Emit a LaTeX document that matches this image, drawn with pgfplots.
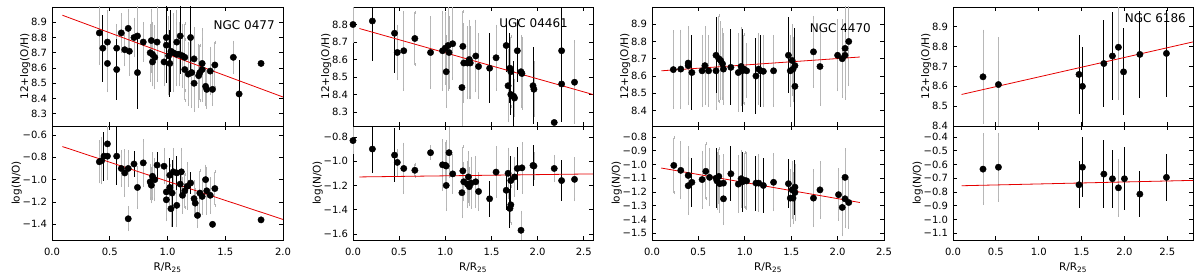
\documentclass[border=0pt]{standalone}
\usepackage{pgfplots}
\usepackage{pgfplotstable}
\pgfplotsset{compat=1.18}
\usepackage{fontspec}
\setmainfont{DejaVu Sans}

% ---------- data: x y (black error) (gray error) ----------
\pgfplotstableread{
x y eb eg
0.41 8.83 0 0.2
0.44 8.73 0.22 0
0.48 8.77 0 0.2
0.48 8.63 0 0.18
0.56 8.73 0 0.15
0.56 8.59 0.2 0
0.60 8.83 0 0.12
0.63 8.72 0 0.1
0.66 8.86 0 0.12
0.67 8.71 0 0.15
0.71 8.80 0 0.12
0.74 8.81 0 0.2
0.74 8.57 0.24 0
0.79 8.77 0 0.12
0.86 8.78 0 0.2
0.85 8.70 0 0.18
0.87 8.69 0 0.2
0.87 8.64 0 0.15
0.89 8.67 0 0.2
0.91 8.77 0 0.25
0.97 8.64 0 0.15
0.99 8.80 0.3 0
0.99 8.75 0 0.2
1.01 8.68 0 0.25
1.02 8.63 0.22 0
1.03 8.71 0.27 0
1.08 8.77 0 0.2
1.05 8.70 0 0.25
1.08 8.69 0 0.2
1.11 8.81 0.25 0
1.10 8.69 0 0.2
1.13 8.68 0 0.2
1.15 8.67 0 0.22
1.20 8.80 0.22 0
1.15 8.59 0 0.2
1.18 8.56 0 0.2
1.21 8.57 0 0.22
1.23 8.66 0 0.2
1.23 8.50 0 0.18
1.27 8.55 0 0.2
1.28 8.57 0 0.18
1.30 8.63 0 0.22
1.30 8.59 0 0.2
1.33 8.48 0 0.12
1.34 8.46 0 0.12
1.39 8.46 0 0.1
1.37 8.58 0 0.15
1.41 8.62 0 0.15
1.57 8.67 0 0.1
1.62 8.43 0.22 0
1.81 8.63 0 0
}\pOneTop
\pgfplotstableread{
x y eb eg
0.41 -0.84 0 0.18
0.43 -0.83 0 0.2
0.45 -0.79 0.22 0
0.48 -0.79 0 0.2
0.48 -0.68 0 0.15
0.56 -0.79 0.26 0
0.60 -0.90 0 0.15
0.63 -0.94 0 0.2
0.66 -1.35 0 0.1
0.66 -0.90 0 0.15
0.71 -0.86 0.12 0
0.74 -1.07 0 0.18
0.79 -0.85 0 0.2
0.85 -1.02 0 0.15
0.86 -1.05 0 0.15
0.87 -0.97 0 0.2
0.89 -1.00 0 0.18
0.91 -0.87 0.12 0
0.97 -0.88 0 0.15
0.99 -1.11 0 0.2
0.99 -1.18 0 0.18
1.02 -0.96 0.15 0
1.02 -1.07 0 0.2
1.03 -1.26 0 0.15
1.04 -1.12 0.3 0
1.05 -0.93 0 0.2
1.08 -0.94 0.15 0
1.08 -1.23 0 0.18
1.12 -0.93 0 0.2
1.11 -1.04 0.12 0
1.13 -1.14 0 0.15
1.15 -1.10 0 0.15
1.17 -1.06 0 0.2
1.20 -1.03 0.1 0
1.23 -1.17 0 0.15
1.24 -1.21 0 0.12
1.26 -1.32 0 0.1
1.28 -1.12 0 0.2
1.30 -1.15 0 0.15
1.33 -1.00 0 0.12
1.34 -1.10 0 0.2
1.37 -1.14 0 0.15
1.39 -1.40 0 0
1.41 -1.08 0 0.15
1.81 -1.36 0 0
}\pOneBot
\pgfplotstableread{
x y eb eg
0.00 8.80 0 0.1
0.21 8.82 0.23 0
0.45 8.75 0.23 0
0.48 8.64 0 0.15
0.55 8.65 0 0.22
0.67 8.72 0 0.15
0.84 8.64 0 0.2
0.97 8.65 0 0.22
1.00 8.665 0 0.2
1.01 8.53 0 0.2
1.03 8.68 0 0.25
1.04 8.64 0 0.2
1.08 8.69 0 0.2
1.18 8.44 0 0.25
1.19 8.675 0 0.2
1.20 8.58 0 0.22
1.24 8.58 0 0.2
1.26 8.60 0 0.22
1.27 8.58 0 0.2
1.33 8.62 0 0.2
1.36 8.56 0 0.18
1.48 8.55 0.2 0
1.55 8.61 0 0.18
1.66 8.68 0.15 0
1.68 8.45 0 0.2
1.70 8.55 0.2 0
1.71 8.53 0 0.2
1.71 8.40 0.12 0
1.74 8.39 0.2 0
1.75 8.38 0 0.1
1.78 8.65 0.18 0
1.82 8.53 0 0.2
1.83 8.52 0 0.2
1.95 8.45 0.22 0
1.96 8.43 0 0.15
2.18 8.24 0 0
2.26 8.65 0.25 0
2.26 8.46 0.22 0
2.40 8.47 0 0.23
}\pTwoTop
\pgfplotstableread{
x y eb eg
0.00 -0.83 0 0.1
0.21 -0.90 0.2 0
0.45 -0.95 0.22 0
0.48 -1.01 0 0.1
0.55 -1.06 0 0.2
0.67 -1.075 0 0.05
0.84 -0.93 0 0.05
0.97 -1.03 0 0.2
1.00 -1.034 0 0.18
1.01 -1.04 0 0.2
1.01 -1.20 0 0.2
1.04 -0.93 0 0.2
1.08 -1.105 0 0.15
1.18 -1.26 0 0.2
1.19 -1.08 0 0.2
1.20 -1.17 0 0.15
1.24 -1.19 0 0.18
1.25 -1.13 0 0.2
1.26 -1.21 0 0.15
1.28 -1.18 0 0.2
1.33 -1.17 0 0.2
1.36 -1.25 0 0.15
1.48 -1.31 0.15 0
1.55 -1.09 0 0.2
1.66 -1.24 0.16 0
1.68 -1.10 0 0.2
1.70 -1.39 0.16 0
1.71 -1.36 0 0.15
1.71 -1.16 0.2 0
1.75 -1.13 0 0.15
1.78 -1.06 0.18 0
1.82 -1.57 0 0.15
1.83 -1.055 0 0.2
1.95 -1.035 0.17 0
1.96 -1.04 0 0.1
2.18 -1.06 0 0.1
2.26 -1.16 0.17 0
2.40 -1.15 0 0.17
}\pTwoBot
\pgfplotstableread{
x y eb eg
0.23 8.637 0 0.22
0.31 8.64 0 0.22
0.39 8.675 0 0.2
0.39 8.66 0 0.22
0.43 8.62 0.22 0
0.54 8.63 0 0.2
0.57 8.66 0 0.22
0.61 8.63 0 0.2
0.69 8.63 0 0.22
0.69 8.72 0.22 0
0.72 8.70 0 0.25
0.74 8.69 0 0.22
0.76 8.67 0 0.2
0.77 8.64 0 0.2
0.85 8.65 0.22 0
0.93 8.62 0 0.22
0.96 8.655 0 0.22
0.97 8.63 0.24 0
0.99 8.64 0 0.2
1.02 8.63 0 0.15
1.12 8.60 0.22 0
1.15 8.64 0 0.2
1.17 8.63 0.21 0
1.20 8.627 0 0.2
1.31 8.63 0 0.2
1.47 8.72 0.22 0
1.49 8.63 0 0.2
1.51 8.69 0 0.2
1.52 8.64 0 0.18
1.54 8.66 0.22 0
1.54 8.54 0.25 0
1.74 8.74 0 0.2
1.81 8.655 0 0.22
2.00 8.72 0 0.2
2.05 8.70 0 0.22
2.08 8.72 0 0.25
2.08 8.76 0 0.25
2.12 8.80 0 0.25
}\pThreeTop
\pgfplotstableread{
x y eb eg
0.235 -1.007 0 0.2
0.31 -1.043 0 0.2
0.39 -1.08 0 0.2
0.39 -1.155 0 0.2
0.43 -1.13 0.18 0
0.54 -1.11 0 0.2
0.58 -1.05 0 0.2
0.62 -1.094 0 0.2
0.69 -1.10 0.22 0
0.70 -1.12 0 0.2
0.72 -1.087 0 0.2
0.73 -1.14 0 0.2
0.77 -1.136 0 0.2
0.77 -1.25 0 0.18
0.85 -1.068 0.2 0
0.93 -1.143 0 0.2
0.96 -1.104 0 0.2
0.97 -1.128 0.22 0
1.00 -1.116 0 0.2
1.02 -1.12 0 0.2
1.12 -1.136 0.2 0
1.15 -1.136 0 0.2
1.20 -1.153 0.2 0
1.31 -1.13 0 0.2
1.47 -1.14 0.18 0
1.49 -1.245 0 0.2
1.51 -1.185 0 0.2
1.52 -1.245 0 0.18
1.54 -1.165 0.2 0
1.54 -1.204 0 0.2
1.74 -1.245 0 0.2
1.81 -1.185 0 0.2
2.01 -1.22 0 0.18
2.05 -1.313 0 0.2
2.08 -1.094 0 0.2
2.08 -1.25 0 0.2
2.12 -1.277 0 0.18
}\pThreeBot
\pgfplotstableread{
x y eb eg
0.35 8.648 0 0.23
0.53 8.609 0 0.23
1.47 8.66 0.2 0
1.51 8.60 0.2 0
1.76 8.715 0.22 0
1.86 8.753 0.22 0
1.93 8.797 0 0.26
1.99 8.673 0.22 0
2.18 8.761 0.22 0
2.49 8.766 0.22 0
}\pFourTop
\pgfplotstableread{
x y eb eg
0.35 -0.634 0 0.25
0.53 -0.62 0 0.24
1.47 -0.748 0.17 0
1.51 -0.62 0.22 0
1.76 -0.67 0.25 0
1.86 -0.704 0.21 0
1.93 -0.77 0 0.2
2.00 -0.704 0.23 0
2.18 -0.816 0.17 0
2.49 -0.694 0.17 0
}\pFourBot

\pgfplotsset{
  base/.style={
    scale only axis, anchor=south west,
    tick align=inside, xtick pos=both, ytick pos=both,
    major tick length=4pt,
    axis line style={line width=0.8pt},
    every tick/.style={black, line width=0.8pt},
    tick label style={font=\fontsize{10}{12}\selectfont},
    label style={font=\fontsize{10.5}{12}\selectfont},
    xticklabel style={yshift=-5pt},
    yticklabel style={xshift=-1.5pt},
    ylabel style={yshift=-6pt},
    /pgf/number format/.cd, fixed, fixed zerofill, precision=1, assume math mode=true,
  },
  toprow/.style={base, height=119pt, at={(#1,154pt)}, xticklabels={}, ylabel={12+log(O/H)}},
  botrow/.style={base, height=114pt, at={(#1,40pt)}, xlabel={R/R\textsubscript{25}}, ylabel={log(N/O)}},
  gerr/.style={only marks, mark=none, error bars/.cd, y dir=both, y explicit,
    error mark=-, error mark options={black!30, mark size=1.5pt, line width=0.6pt},
    error bar style={color=black!28, line width=0.8pt}},
  berr/.style={only marks, mark=none, error bars/.cd, y dir=both, y explicit,
    error mark=none,
    error bar style={color=black, line width=1.0pt}},
  pts/.style={only marks, mark=*, mark size=3.2pt, mark options={fill=black, draw=black}},
  fit/.style={no marks, color=red!90!black, line width=0.8pt},
}

\begin{document}
\begin{tikzpicture}
\useasboundingbox (0,0) rectangle (1200pt,280pt);

% ================= Panel 1 =================
\begin{axis}[toprow=52pt, width=231pt, xmin=0, xmax=2.0, ymin=8.22, ymax=9.0,
  xtick={0,0.5,1.0,1.5,2.0}, ytick={8.3,8.4,8.5,8.6,8.7,8.8,8.9}]
\addplot[gerr] table[x=x,y=y,y error=eg]{\pOneTop};
\addplot[berr] table[x=x,y=y,y error=eb]{\pOneTop};
\addplot[pts] table[x=x,y=y]{\pOneTop};
\addplot[fit] coordinates {(0.09,8.946) (2.0,8.41)};
\node[anchor=north east, inner sep=0pt, font=\fontsize{12}{14}\selectfont] at (rel axis cs:0.965,0.89) {NGC 0477};
\end{axis}
\begin{axis}[botrow=52pt, width=231pt, xmin=0, xmax=2.0, ymin=-1.54, ymax=-0.52,
  xtick={0,0.5,1.0,1.5,2.0}, ytick={-1.4,-1.2,-1.0,-0.8,-0.6},
  yticklabels={−1.4,−1.2,−1.0,−0.8,−0.6}]
\addplot[gerr] table[x=x,y=y,y error=eg]{\pOneBot};
\addplot[berr] table[x=x,y=y,y error=eb]{\pOneBot};
\addplot[pts] table[x=x,y=y]{\pOneBot};
\addplot[fit] coordinates {(0.09,-0.704) (2.0,-1.356)};
\end{axis}

% ================= Panel 2 =================
\begin{axis}[toprow=353pt, width=240pt, xmin=0, xmax=2.6, ymin=8.22, ymax=8.9,
  xtick={0,0.5,1.0,1.5,2.0,2.5}, ytick={8.3,8.4,8.5,8.6,8.7,8.8}]
\addplot[gerr] table[x=x,y=y,y error=eg]{\pTwoTop};
\addplot[berr] table[x=x,y=y,y error=eb]{\pTwoTop};
\addplot[pts] table[x=x,y=y]{\pTwoTop};
\addplot[fit] coordinates {(0.07,8.777) (2.6,8.40)};
\node[anchor=north east, inner sep=0pt, font=\fontsize{12}{14}\selectfont] at (rel axis cs:0.896,0.908) {UGC 04461};
\end{axis}
\begin{axis}[botrow=353pt, width=240pt, xmin=0, xmax=2.6, ymin=-1.65, ymax=-0.71,
  xtick={0,0.5,1.0,1.5,2.0,2.5}, ytick={-1.6,-1.4,-1.2,-1.0,-0.8},
  yticklabels={−1.6,−1.4,−1.2,−1.0,−0.8}]
\addplot[gerr] table[x=x,y=y,y error=eg]{\pTwoBot};
\addplot[berr] table[x=x,y=y,y error=eb]{\pTwoBot};
\addplot[pts] table[x=x,y=y]{\pTwoBot};
\addplot[fit] coordinates {(0.07,-1.13) (2.6,-1.105)};
\end{axis}

% ================= Panel 3 =================
\begin{axis}[toprow=652pt, width=232pt, xmin=0, xmax=2.5, ymin=8.31, ymax=9.0,
  xtick={0,0.5,1.0,1.5,2.0,2.5}, ytick={8.4,8.5,8.6,8.7,8.8,8.9}]
\addplot[gerr] table[x=x,y=y,y error=eg]{\pThreeTop};
\addplot[berr] table[x=x,y=y,y error=eb]{\pThreeTop};
\addplot[pts] table[x=x,y=y]{\pThreeTop};
\addplot[fit] coordinates {(0.10,8.63) (2.24,8.71)};
\node[anchor=north east, inner sep=0pt, font=\fontsize{12}{14}\selectfont] at (rel axis cs:0.944,0.866) {NGC 4470};
\end{axis}
\begin{axis}[botrow=652pt, width=232pt, xmin=0, xmax=2.5, ymin=-1.55, ymax=-0.72,
  xtick={0,0.5,1.0,1.5,2.0,2.5}, ytick={-1.5,-1.4,-1.3,-1.2,-1.1,-1.0,-0.9,-0.8},
  yticklabels={−1.5,−1.4,−1.3,−1.2,−1.1,−1.0,−0.9,−0.8}]
\addplot[gerr] table[x=x,y=y,y error=eg]{\pThreeBot};
\addplot[berr] table[x=x,y=y,y error=eb]{\pThreeBot};
\addplot[pts] table[x=x,y=y]{\pThreeBot};
\addplot[fit] coordinates {(0.10,-1.026) (2.24,-1.277)};
\end{axis}

% ================= Panel 4 =================
\begin{axis}[toprow=953pt, width=240pt, xmin=0, xmax=2.8, ymin=8.4, ymax=9.0,
  xtick={0,0.5,1.0,1.5,2.0,2.5}, ytick={8.4,8.5,8.6,8.7,8.8,8.9}]
\addplot[gerr] table[x=x,y=y,y error=eg]{\pFourTop};
\addplot[berr] table[x=x,y=y,y error=eb]{\pFourTop};
\addplot[pts] table[x=x,y=y]{\pFourTop};
\addplot[fit] coordinates {(0.10,8.559) (2.8,8.824)};
\node[anchor=north east, inner sep=0pt, font=\fontsize{12}{14}\selectfont] at (rel axis cs:0.971,0.95) {NGC 6186};
\end{axis}
\begin{axis}[botrow=953pt, width=240pt, xmin=0, xmax=2.8, ymin=-1.15, ymax=-0.32,
  xtick={0,0.5,1.0,1.5,2.0,2.5}, ytick={-1.1,-1.0,-0.9,-0.8,-0.7,-0.6,-0.5,-0.4},
  yticklabels={−1.1,−1.0,−0.9,−0.8,−0.7,−0.6,−0.5,−0.4}]
\addplot[gerr] table[x=x,y=y,y error=eg]{\pFourBot};
\addplot[berr] table[x=x,y=y,y error=eb]{\pFourBot};
\addplot[pts] table[x=x,y=y]{\pFourBot};
\addplot[fit] coordinates {(0.10,-0.755) (2.8,-0.716)};
\end{axis}
\end{tikzpicture}
\end{document}
